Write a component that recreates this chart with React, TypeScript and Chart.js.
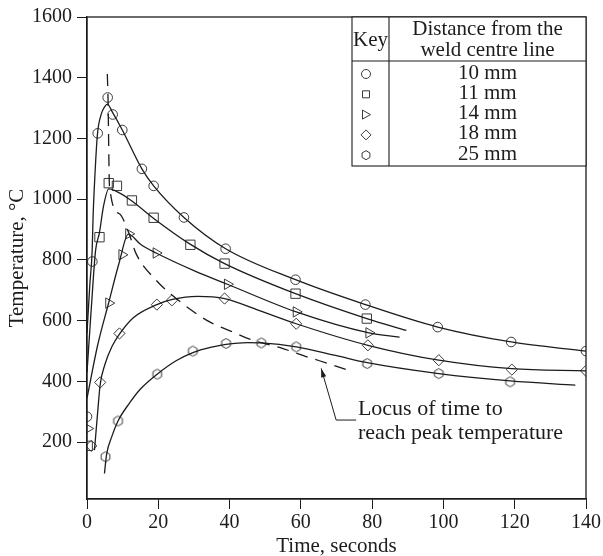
import React, { useEffect, useRef } from 'react';
import { Chart, registerables } from 'chart.js';

Chart.register(...registerables);

const FONT = '"Liberation Serif", "Times New Roman", serif';
const INK = '#1c1c1c';
const MARK = '#3a3a3a';

// ---- measured points (markers) ----
const c10X = [0, 1.5, 3, 5.8, 7.2, 9.9, 15.4, 18.7, 27.2, 38.9, 58.5, 78.1, 98.4, 119, 140];
const c10Y = [284, 795, 1217, 1335, 1279, 1228, 1100, 1044, 940, 837, 735, 653, 579, 530, 500];

const s11X = [0.2, 3.5, 6.1, 8.4, 12.6, 18.7, 29, 38.6, 58.5, 78.5];
const s11Y = [188, 875, 1053, 1044, 996, 939, 850, 788, 689, 607];

const t14X = [0.2, 6.1, 9.8, 11.7, 19.4, 39.4, 58.7, 79.1];
const t14Y = [245, 658, 817, 886, 823, 720, 629, 560];

const d18X = [1.2, 3.7, 9.1, 19.6, 23.8, 38.6, 58.7, 78.8, 98.7, 119.2, 140];
const d18Y = [188, 397, 558, 653, 667, 673, 590, 519, 470, 439, 435];

const h25X = [5.2, 8.7, 19.7, 29.7, 39, 48.9, 58.7, 78.6, 98.7, 118.7];
const h25Y = [152, 270, 424, 500, 525, 527, 514, 459, 426, 399];

// ---- fitted curves ----
const l10X = [0, 0.8, 1.45, 1.7, 2.1, 2.9, 4, 5, 5.7, 7.2, 9.9, 15.4, 18.7, 27.2, 38.9, 58.5, 78.1, 98.4, 119, 140];
const l10Y = [560, 720, 831, 940, 1050, 1210, 1280, 1305, 1313, 1285, 1228, 1100, 1044, 940, 837, 735, 653, 579, 530, 500];

const l11X = [0, 1.2, 2.4, 3.5, 4.6, 6.1, 7.7, 12.4, 18.9, 28.8, 38.6, 58.5, 78.5, 89.6];
const l11Y = [430, 640, 831, 890, 975, 1034, 1029, 996, 935, 853, 788, 689, 607, 568];

const l14X = [0, 3, 6.1, 9, 11.6, 15, 19.4, 30, 39.4, 58.7, 79.1, 87.7];
const l14Y = [345, 520, 660, 790, 885, 852, 823, 765, 720, 629, 560, 546];

const l18X = [2.1, 3, 3.7, 5, 7, 9.1, 13, 19.6, 24, 31, 38.6, 48, 58.7, 78.8, 98.7, 119.2, 140];
const l18Y = [174, 300, 390, 455, 515, 556, 610, 653, 670, 680, 673, 635, 590, 519, 470, 442, 435];

const l25X = [4.9, 5.5, 7, 8.7, 12, 15, 19.7, 25, 29.7, 35, 39, 45, 48.9, 58.7, 70, 78.6, 98.7, 118.7, 137];
const l25Y = [97, 160, 220, 270, 330, 375, 424, 468, 495, 513, 522, 528, 527, 514, 485, 462, 426, 402, 388];

// ---- locus of peak temperature (dashed) ----
const locusX = [5.7, 5.9, 6.3, 9.1, 11.7, 13.8, 19.4, 25, 34.4, 40.9, 46.5, 54, 62, 68, 73];
const locusY = [1412, 1330, 1045, 952, 890, 820, 733, 673, 596, 563, 536, 512, 480, 458, 438];

// ---- ticks & labels ----
const xTicks = [0, 20, 40, 60, 80, 100, 120, 140];
const yTicks = [200, 400, 600, 800, 1000, 1200, 1400, 1600];
const keyLabels = ['10 mm', '11 mm', '14 mm', '18 mm', '25 mm'];
const keyStyles = ['circle', 'rect', 'triangle', 'diamond', 'hexagon'];
const noteLines = ['Locus of time to', 'reach peak temperature'];
// annotation anchors in data units: arrow head, elbow, text start
const arrowHead = { x: 65.7, y: 443 };
const arrowElbow = { x: 69.9, y: 273 };
const arrowEnd = { x: 75.5, y: 273 };
const noteStart = { x: 76.0, y: 308 };

const pts = (xs: number[], ys: number[]) => xs.map((x, i) => ({ x, y: ys[i] }));

function hexPath(ctx: CanvasRenderingContext2D, cx: number, cy: number, r: number) {
  ctx.beginPath();
  for (let k = 0; k < 6; k++) {
    const a = -Math.PI / 2 + (k * Math.PI) / 3;
    const px = cx + r * Math.cos(a);
    const py = cy + r * Math.sin(a);
    if (k === 0) ctx.moveTo(px, py);
    else ctx.lineTo(px, py);
  }
  ctx.closePath();
}

function hexCanvas(r: number) {
  const size = Math.ceil(r * 2 + 3);
  const c = document.createElement('canvas');
  c.width = size;
  c.height = size;
  const ctx = c.getContext('2d')!;
  ctx.strokeStyle = MARK;
  ctx.lineWidth = 1;
  hexPath(ctx, size / 2, size / 2, r);
  ctx.stroke();
  return c;
}

function drawKeyMarker(ctx: CanvasRenderingContext2D, style: string, x: number, y: number) {
  ctx.save();
  ctx.strokeStyle = MARK;
  ctx.lineWidth = 1;
  ctx.beginPath();
  if (style === 'circle') {
    ctx.arc(x, y, 4.5, 0, Math.PI * 2);
  } else if (style === 'rect') {
    ctx.rect(x - 3.5, y - 3.5, 7, 7);
  } else if (style === 'triangle') {
    ctx.moveTo(x - 3.5, y - 4.5);
    ctx.lineTo(x + 4.5, y);
    ctx.lineTo(x - 3.5, y + 4.5);
    ctx.closePath();
  } else if (style === 'diamond') {
    ctx.moveTo(x, y - 5);
    ctx.lineTo(x + 5, y);
    ctx.lineTo(x, y + 5);
    ctx.lineTo(x - 5, y);
    ctx.closePath();
  } else {
    hexPath(ctx, x, y, 4.5);
  }
  ctx.stroke();
  ctx.restore();
}

const decorPlugin = {
  id: 'decor',
  afterDraw(chart: any) {
    const { ctx, chartArea, scales } = chart;
    const xs = scales.x;
    const ys = scales.y;
    ctx.save();
    // frame
    ctx.strokeStyle = INK;
    ctx.lineWidth = 1.3;
    ctx.strokeRect(chartArea.left, chartArea.top, chartArea.right - chartArea.left, chartArea.bottom - chartArea.top);

    // key table
    const tL = chartArea.right - 234;
    const tR = chartArea.right;
    const tT = chartArea.top;
    const tH = tT + 44;
    const tB = tT + 149;
    const tD = tL + 37;
    ctx.lineWidth = 1.1;
    ctx.fillStyle = '#ffffff';
    ctx.fillRect(tL, tT, tR - tL, tB - tT);
    ctx.strokeRect(tL, tT, tR - tL, tB - tT);
    ctx.beginPath();
    ctx.moveTo(tL, tH);
    ctx.lineTo(tR, tH);
    ctx.moveTo(tD, tT);
    ctx.lineTo(tD, tB);
    ctx.stroke();
    ctx.fillStyle = INK;
    ctx.textAlign = 'center';
    ctx.textBaseline = 'middle';
    ctx.font = `21px ${FONT}`;
    ctx.fillText('Key', (tL + tD) / 2, tT + 23);
    ctx.fillText('Distance from the', (tD + tR) / 2, tT + 12);
    ctx.fillText('weld centre line', (tD + tR) / 2, tT + 33);
    keyLabels.forEach((lab, i) => {
      const y = tT + 56 + i * 20.3;
      ctx.fillText(lab, (tD + tR) / 2, y);
      drawKeyMarker(ctx, keyStyles[i], tL + 14, y + 1);
    });

    // annotation arrow
    const hx = xs.getPixelForValue(arrowHead.x);
    const hy = ys.getPixelForValue(arrowHead.y);
    const ex = xs.getPixelForValue(arrowElbow.x);
    const ey = ys.getPixelForValue(arrowElbow.y);
    const fx = xs.getPixelForValue(arrowEnd.x);
    ctx.strokeStyle = INK;
    ctx.lineWidth = 1;
    ctx.beginPath();
    ctx.moveTo(fx, ey);
    ctx.lineTo(ex, ey);
    ctx.lineTo(hx, hy);
    ctx.stroke();
    const ang = Math.atan2(hy - ey, hx - ex);
    const L = 9;
    const W = 2.6;
    ctx.beginPath();
    ctx.moveTo(hx, hy);
    ctx.lineTo(hx - L * Math.cos(ang) + W * Math.sin(ang), hy - L * Math.sin(ang) - W * Math.cos(ang));
    ctx.lineTo(hx - L * Math.cos(ang) - W * Math.sin(ang), hy - L * Math.sin(ang) + W * Math.cos(ang));
    ctx.closePath();
    ctx.fillStyle = INK;
    ctx.fill();

    // annotation text
    ctx.font = `22px ${FONT}`;
    ctx.textAlign = 'left';
    ctx.textBaseline = 'middle';
    const nx = xs.getPixelForValue(noteStart.x);
    const ny = ys.getPixelForValue(noteStart.y);
    noteLines.forEach((t, i) => ctx.fillText(t, nx, ny + i * 24));
    ctx.restore();
  },
};

export default function App() {
  const ref = useRef<HTMLCanvasElement | null>(null);

  useEffect(() => {
    document.body.style.margin = '0';
    const canvas = ref.current;
    if (!canvas) return;
    const hex = hexCanvas(5);

    const curve = (xs: number[], ys: number[], dash: number[] = []) => ({
      data: pts(xs, ys),
      showLine: true,
      borderColor: INK,
      borderWidth: 1.3,
      borderDash: dash,
      pointRadius: 0,
      pointHoverRadius: 0,
      fill: false,
      cubicInterpolationMode: 'monotone' as const,
    });
    const marks = (xs: number[], ys: number[], style: any, radius: number, rotation = 0) => ({
      data: pts(xs, ys),
      showLine: false,
      pointStyle: style,
      pointRadius: radius,
      pointRotation: rotation,
      pointBorderColor: MARK,
      pointBackgroundColor: 'rgba(0,0,0,0)',
      pointBorderWidth: 1,
    });

    const chart = new Chart(canvas, {
      type: 'scatter',
      data: {
        datasets: [
          curve(l10X, l10Y),
          curve(l11X, l11Y),
          curve(l14X, l14Y),
          curve(l18X, l18Y),
          curve(l25X, l25Y),
          curve(locusX, locusY, [12, 8]),
          marks(c10X, c10Y, 'circle', 4.8),
          marks(s11X, s11Y, 'rect', 6.6),
          marks(t14X, t14Y, 'triangle', 6, 90),
          marks(d18X, d18Y, 'rectRot', 5.6),
          marks(h25X, h25Y, hex, 5),
        ] as any,
      },
      options: {
        animation: false,
        responsive: false,
        maintainAspectRatio: false,
        events: [],
        layout: { padding: { top: 16, right: 16, left: 0, bottom: 0 } },
        plugins: { legend: { display: false }, tooltip: { enabled: false } },
        scales: {
          x: {
            type: 'linear',
            min: 0,
            max: 140,
            afterBuildTicks: (s: any) => {
              s.ticks = xTicks.map((v) => ({ value: v }));
            },
            afterFit: (s: any) => {
              s.height = 57;
            },
            grid: { drawOnChartArea: false, drawTicks: true, tickLength: 10, color: INK, lineWidth: 1 },
            border: { display: true, color: INK, width: 1.3 },
            ticks: {
              font: { family: FONT, size: 20 },
              color: INK,
              padding: 2,
              maxRotation: 0,
              callback: (v: any) => String(v),
            },
            title: {
              display: true,
              text: 'Time, seconds',
              font: { family: FONT, size: 21 },
              color: INK,
              padding: { top: 0, bottom: -3 },
            },
          },
          y: {
            type: 'linear',
            min: 13,
            max: 1600,
            afterBuildTicks: (s: any) => {
              s.ticks = yTicks.map((v) => ({ value: v }));
            },
            afterFit: (s: any) => {
              s.width = 87;
            },
            grid: { drawOnChartArea: false, drawTicks: true, tickLength: 10, color: INK, lineWidth: 1 },
            border: { display: true, color: INK, width: 1.3 },
            ticks: { font: { family: FONT, size: 20 }, color: INK, padding: 5, callback: (v: any) => String(v) },
            title: {
              display: true,
              text: 'Temperature, \u00B0C',
              font: { family: FONT, size: 21 },
              color: INK,
              padding: { top: 5, bottom: 0 },
            },
          },
        },
      },
      plugins: [decorPlugin],
    });
    return () => chart.destroy();
  }, []);

  return (
    <div style={{ width: 603, height: 556, position: 'relative', background: '#fff' }}>
      <canvas ref={ref} width={603} height={556} style={{ display: 'block', width: 603, height: 556 }} />
    </div>
  );
}
